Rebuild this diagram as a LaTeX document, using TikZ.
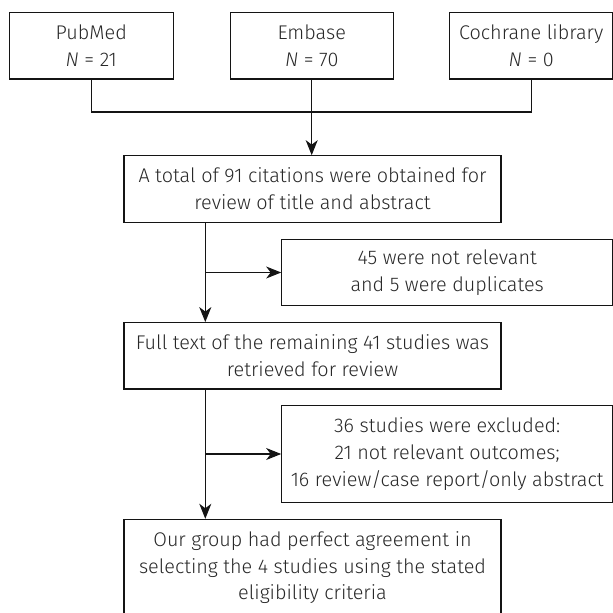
\documentclass[tikz,border=0pt]{standalone}
\usepackage{fontspec}
\setmainfont{Fira Sans}[UprightFont=* Light, ItalicFont=* Light Italic]
\usetikzlibrary{arrows.meta}
\definecolor{txt}{RGB}{40,40,40}
\definecolor{ln}{RGB}{20,20,20}
\tikzset{
  box/.style={draw=ln, line width=1.1pt, inner sep=0pt, align=center, anchor=center,
    text=txt, font=\fontsize{19.8}{26.7}\selectfont},
  arr/.style={draw=ln, line width=1.1pt, -{Stealth[length=15pt,width=12pt,inset=4.5pt]}},
  conn/.style={draw=ln, line width=1.1pt}
}
\begin{document}
\begin{tikzpicture}[x=1pt,y=-1pt]
\useasboundingbox (0,0) rectangle (613,613);
\fill[white] (0,0) rectangle (613,613);
\node[box, minimum width=164pt, minimum height=66.3pt] (pub) at (91.3,45.8) {PubMed\\{\itshape N} = 21};
\node[box, minimum width=163.3pt, minimum height=66.3pt] (emb) at (311.7,45.8) {Embase\\{\itshape N} = 70};
\node[box, minimum width=163pt, minimum height=66.3pt] (coch) at (531.2,45.8) {Cochrane library\\{\itshape N} = 0};
\node[box, minimum width=377pt, minimum height=66.6pt] (b1) at (312.5,189) {A total of 91 citations were obtained for\\review of title and abstract};
\node[box, minimum width=331pt, minimum height=66.4pt] (s1) at (447.2,272.5) {45 were not relevant\\and 5 were duplicates};
\node[box, minimum width=377pt, minimum height=66.3pt] (b2) at (312.5,355.8) {Full text of the remaining 41 studies was\\retrieved for review};
\node[box, minimum width=331pt, minimum height=96.6pt] (s2) at (447.2,454) {36 studies were excluded:\\21 not relevant outcomes;\\16 review/case report/only abstract};
\node[box, minimum width=377pt, minimum height=96.6pt] (b3) at (312.5,567.6) {Our group had perfect agreement in\\selecting the 4 studies using the stated\\eligibility criteria};
\coordinate (j) at (311.7,112);
\coordinate (v) at (205.3,0);
\draw[conn] (pub.south) |- (j) -| (coch.south);
\draw[arr] (emb.south) -- (emb.south |- b1.north);
\draw[arr] (b1.south -| v) -- (b2.north -| v);
\draw[arr] (v |- s1.west) -- (s1.west);
\draw[arr] (b2.south -| v) -- (b3.north -| v);
\draw[arr] (v |- s2.west) -- (s2.west);
\end{tikzpicture}
\end{document}
